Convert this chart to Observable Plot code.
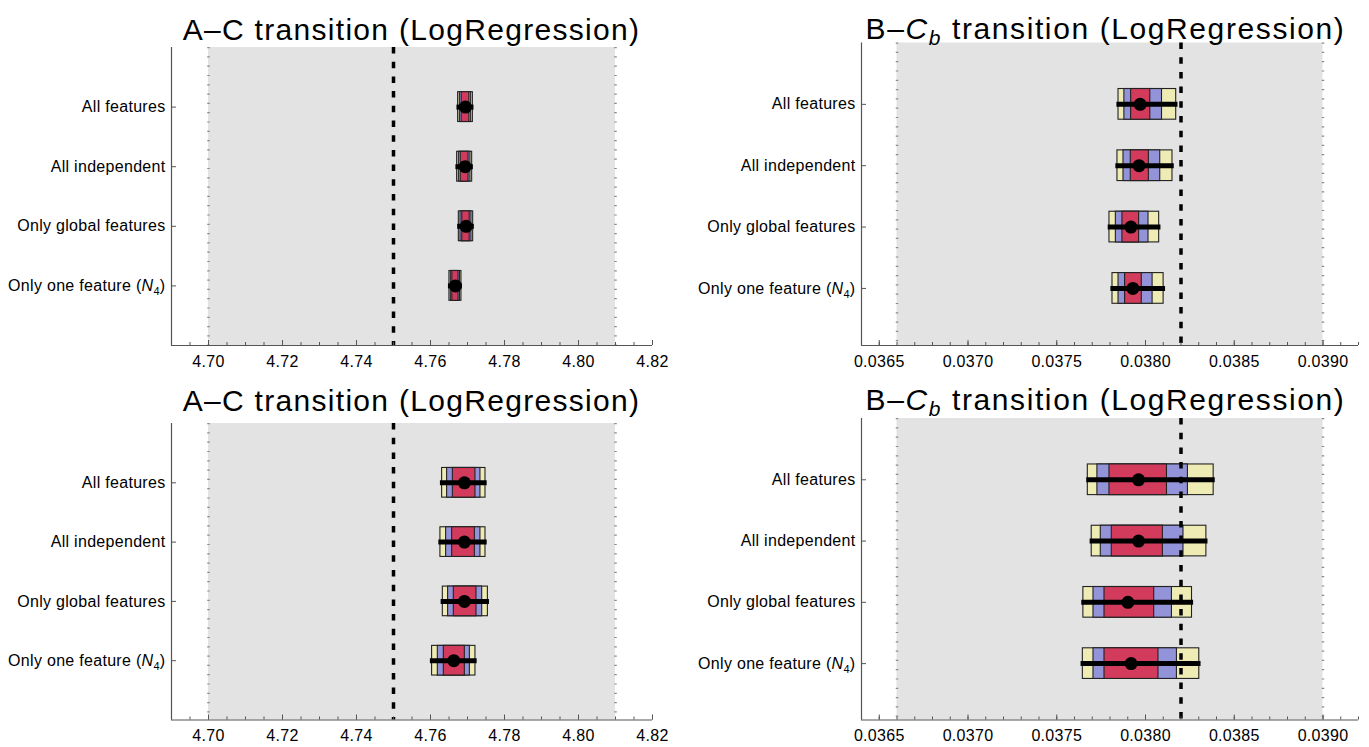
<!DOCTYPE html>
<html><head><meta charset="utf-8">
<script src="https://cdn.jsdelivr.net/npm/d3@7"></script>
<script src="https://cdn.jsdelivr.net/npm/@observablehq/plot@0.6"></script>
<style>
body{margin:0;background:#fff;}
#wrap{position:relative;width:1369px;height:747px;overflow:hidden;font-family:"Liberation Sans",Arial,sans-serif;}
.panel{position:absolute;}
.panel svg{overflow:visible;}
</style></head><body><div id="wrap"></div>
<script>
const categories = ["All features", "All independent", "Only global features", "Only one feature (N4)"];
const rows = [1, 2, 3, 4];

// A–C transition, top panel
const acTopYellow = [[4.76747, 4.77145], [4.76720, 4.77126], [4.76766, 4.77153], [4.76512, 4.76836]];
const acTopBlue   = [[4.76793, 4.77099], [4.76766, 4.77080], [4.76810, 4.77108], [4.76549, 4.76798]];
const acTopRed    = [[4.76842, 4.77050], [4.76817, 4.77028], [4.76859, 4.77059], [4.76590, 4.76758]];
const acTopLine   = [[4.76715, 4.77175], [4.76687, 4.77158], [4.76735, 4.77184], [4.76485, 4.76863]];
const acTopDot    = [4.76945, 4.76936, 4.76963, 4.76674];

// A–C transition, bottom panel
const acBotYellow = [[4.76314, 4.77486], [4.76268, 4.77486], [4.76333, 4.77551], [4.76043, 4.77215]];
const acBotBlue   = [[4.76449, 4.77350], [4.76422, 4.77350], [4.76476, 4.77397], [4.76198, 4.77064]];
const acBotRed    = [[4.76604, 4.77215], [4.76585, 4.77199], [4.76630, 4.77243], [4.76360, 4.76928]];
const acBotLine   = [[4.76268, 4.77532], [4.76225, 4.77532], [4.76287, 4.77594], [4.75997, 4.77261]];
const acBotDot    = [4.76917, 4.76917, 4.76917, 4.76630];

// B–Cb transition, top panel
const bcTopYellow = [[0.037848, 0.038173], [0.037842, 0.038152], [0.037797, 0.038077], [0.037814, 0.038102]];
const bcTopBlue   = [[0.037881, 0.038093], [0.037876, 0.038083], [0.037833, 0.038017], [0.037848, 0.038040]];
const bcTopRed    = [[0.037919, 0.038027], [0.037917, 0.038019], [0.037870, 0.037964], [0.037885, 0.037979]];
const bcTopLine   = [[0.037839, 0.038183], [0.037833, 0.038162], [0.037790, 0.038087], [0.037805, 0.038113]];
const bcTopDot    = [0.037970, 0.037964, 0.037918, 0.037929];

// B–Cb transition, bottom panel
const bcBotYellow = [[0.037675, 0.038384], [0.037697, 0.038343], [0.037650, 0.038262], [0.037647, 0.038303]];
const bcBotBlue   = [[0.037729, 0.038239], [0.037748, 0.038214], [0.037707, 0.038149], [0.037707, 0.038177]];
const bcBotRed    = [[0.037797, 0.038121], [0.037810, 0.038098], [0.037769, 0.038049], [0.037769, 0.038073]];
const bcBotLine   = [[0.037669, 0.038393], [0.037688, 0.038352], [0.037641, 0.038271], [0.037637, 0.038313]];
const bcBotDot    = [0.037961, 0.037961, 0.037901, 0.037919];

// axes / reference values
const acDomain = [4.69, 4.82];
const acBand = [4.70, 4.81];
const acDashed = 4.75;
const acMajor = [4.70, 4.72, 4.74, 4.76, 4.78, 4.80, 4.82];
const acMinor = d3.range(4.69, 4.8201, 0.005);
const bcDomain = [0.0364, 0.0392];
const bcBand = [0.0366, 0.0390];
const bcDashed = 0.0382;
const bcMajor = [0.0365, 0.0370, 0.0375, 0.0380, 0.0385, 0.0390];
const bcMinor = d3.range(0.0364, 0.039201, 0.0001);

const FONT = '"Liberation Sans", Arial, sans-serif';
const C_YEL = "#eeebb5", C_BLU = "#9393d9", C_RED = "#d23b5c", C_AX = "#555";

function makePanel(o) {
  const data = categories.map((c, i) => ({
    row: rows[i],
    yl: o.yellow[i][0], yh: o.yellow[i][1],
    bl: o.blue[i][0], bh: o.blue[i][1],
    rl: o.red[i][0], rh: o.red[i][1],
    ll: o.line[i][0], lh: o.line[i][1],
    d: o.dot[i]
  }));
  const pw = o.width - o.mLeft - o.mRight;
  const ph = o.height - o.mTop - o.mBottom;
  const hb = 0.25;
  const boxOpts = (lo, hi, fill) => ({x1: lo, x2: hi, y1: d => d.row - hb, y2: d => d.row + hb, fill, stroke: "#222", strokeWidth: 1.1});
  const svg = Plot.plot({
    width: o.width, height: o.height,
    marginTop: o.mTop, marginBottom: o.mBottom, marginLeft: o.mLeft, marginRight: o.mRight,
    style: {fontFamily: FONT, fontSize: "16px", background: "transparent", overflow: "visible"},
    x: {domain: o.xDomain, label: null},
    y: {domain: [0, o.yMax], reverse: true, label: null},
    marks: [
      Plot.rect([o.band], {x1: d => d[0], x2: d => d[1], fill: "#e3e3e3"}),
      Plot.ruleX(o.band, {stroke: "#8a8a8a", strokeWidth: 2.5, strokeDasharray: "1.2,8.1"}),
      Plot.rect(data, boxOpts("yl", "yh", C_YEL)),
      Plot.rect(data, boxOpts("bl", "bh", C_BLU)),
      Plot.rect(data, boxOpts("rl", "rh", C_RED)),
      Plot.ruleX([o.dashed], {stroke: "#000", strokeWidth: 3.5, strokeDasharray: "6.5,8.2"}),
      Plot.ruleY(data, {x1: "ll", x2: "lh", y: "row", stroke: "#000", strokeWidth: 5}),
      Plot.dot(data, {x: "d", y: "row", r: 6.5, fill: "#000", stroke: null}),
      Plot.ruleX([o.xDomain[0]], {stroke: C_AX, strokeWidth: 1.2}),
      Plot.ruleY([o.yMax], {stroke: C_AX, strokeWidth: 1.2}),
      Plot.tickX(o.minor, {x: d => d, insetTop: ph - 3, stroke: C_AX}),
      Plot.tickX(o.major, {x: d => d, insetTop: ph - 5, stroke: C_AX}),
      Plot.tickY(rows, {y: d => d, insetRight: pw - 5, stroke: C_AX}),
      Plot.axisX(o.major, {tickSize: 0, tickPadding: 10, tickFormat: o.fmt, label: null, fontSize: 16}),
      Plot.axisY(rows, {tickSize: 0, tickPadding: 6, tickFormat: r => categories[r - 1], label: null, fontSize: 16})
    ]
  });
  const s = d3.select(svg);
  s.selectAll("text").attr("letter-spacing", "0.3px");
  // rich text for the N4 label
  s.selectAll("text").each(function () {
    if (this.textContent === categories[3]) {
      const t = d3.select(this);
      t.text(null);
      t.append("tspan").text("Only one feature (");
      t.append("tspan").attr("font-style", "italic").text("N");
      t.append("tspan").attr("font-size", "11px").attr("dy", "4").text("4");
      t.append("tspan").attr("dy", "-4").text(")");
    }
  });
  // title
  const tt = s.append("text")
    .attr("x", o.mLeft + pw / 2 + (o.titleDx || 0)).attr("y", o.titleY)
    .attr("text-anchor", "middle").attr("font-family", FONT).attr("font-size", 30)
    .attr("letter-spacing", o.sub ? "1.6px" : "1.3px").attr("fill", "#000");
  if (o.sub) {
    tt.append("tspan").text("B\u2013");
    tt.append("tspan").attr("font-style", "italic").text("C");
    tt.append("tspan").attr("font-style", "italic").attr("font-size", 21).attr("dy", 6).text("b");
    tt.append("tspan").attr("dy", -6).text(" transition (LogRegression)");
  } else {
    tt.text("A\u2013C transition (LogRegression)");
  }
  const div = document.createElement("div");
  div.className = "panel";
  div.style.left = o.left + "px";
  div.style.top = o.top + "px";
  div.appendChild(svg);
  document.getElementById("wrap").appendChild(div);
}

const fmtAC = d3.format(".2f");
const fmtBC = d3.format(".4f");

makePanel({left: 0, top: 0, width: 684, height: 373, mTop: 47, mBottom: 28, mLeft: 171, mRight: 32,
  xDomain: acDomain, yMax: 5, band: acBand, dashed: acDashed, major: acMajor, minor: acMinor, fmt: fmtAC,
  yellow: acTopYellow, blue: acTopBlue, red: acTopRed, line: acTopLine, dot: acTopDot, titleY: 39.5});
makePanel({left: 684, top: 0, width: 685, height: 373, mTop: 42.5, mBottom: 28, mLeft: 177, mRight: 11,
  xDomain: bcDomain, yMax: 4.93, band: bcBand, dashed: bcDashed, major: bcMajor, minor: bcMinor, fmt: fmtBC,
  yellow: bcTopYellow, blue: bcTopBlue, red: bcTopRed, line: bcTopLine, dot: bcTopDot, titleY: 39, sub: true, titleDx: -4});
makePanel({left: 0, top: 373, width: 684, height: 374, mTop: 50, mBottom: 27.5, mLeft: 171, mRight: 32,
  xDomain: acDomain, yMax: 5, band: acBand, dashed: acDashed, major: acMajor, minor: acMinor, fmt: fmtAC,
  yellow: acBotYellow, blue: acBotBlue, red: acBotRed, line: acBotLine, dot: acBotDot, titleY: 38});
makePanel({left: 684, top: 373, width: 685, height: 374, mTop: 45, mBottom: 27.5, mLeft: 177, mRight: 11,
  xDomain: bcDomain, yMax: 4.92, band: bcBand, dashed: bcDashed, major: bcMajor, minor: bcMinor, fmt: fmtBC,
  yellow: bcBotYellow, blue: bcBotBlue, red: bcBotRed, line: bcBotLine, dot: bcBotDot, titleY: 37, sub: true, titleDx: -4});
</script>
</body></html>
